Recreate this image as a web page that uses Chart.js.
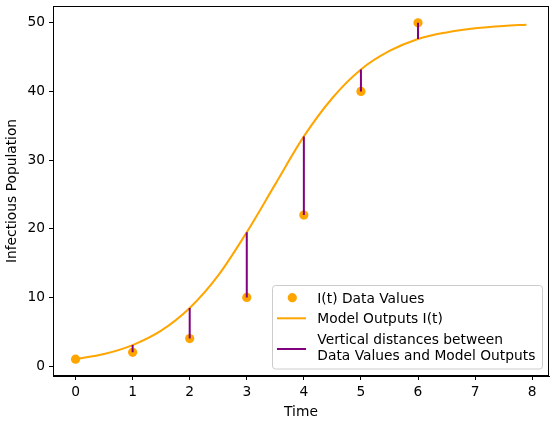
<!DOCTYPE html>
<html>
<head>
<meta charset="utf-8">
<script src="https://cdn.jsdelivr.net/npm/chart.js@4"></script>
<style>
html,body{margin:0;padding:0;background:#fff;}
#wrap{width:554px;height:421px;position:relative;}
</style>
</head>
<body>
<div id="wrap"><canvas id="c" width="554" height="421"></canvas></div>
<script>
// Data
const timePoints = [0, 1, 2, 3, 4, 5, 6];
const dataValues = [1, 2, 4, 10, 22, 40, 50];
const modelTimes = [0, 0.5, 1, 1.5, 2, 2.5, 3, 3.5, 4, 4.5, 5, 5.5, 6, 6.5, 7, 7.5, 7.9];
const modelValues = [1.0, 1.75, 3.05, 5.15, 8.45, 13.2, 19.5, 26.5, 33.45, 39.05, 43.2, 45.9, 47.65, 48.6, 49.2, 49.55, 49.72];
const xTicks = [0, 1, 2, 3, 4, 5, 6, 7, 8];
const yTicks = [0, 10, 20, 30, 40, 50];
const legendLabels = ["I(t) Data Values", "Model Outputs I(t)", ["Vertical distances between", "Data Values and Model Outputs"]];

const FONT = "'DejaVu Sans', sans-serif";
const FS = 13.8;
const ORANGE = '#FFA500';
const PURPLE = '#800080';

// vertical segments from data value to model output at the same time
const segData = [];
timePoints.forEach((t, i) => {
  const mi = modelTimes.indexOf(t);
  segData.push({x: t, y: dataValues[i]});
  segData.push({x: t, y: modelValues[mi]});
  segData.push({x: t, y: null});
});

const framePlugin = {
  id: 'frame',
  afterDraw(chart) {
    const {ctx, chartArea: a} = chart;
    ctx.save();
    ctx.strokeStyle = '#000';
    ctx.lineWidth = 1;
    ctx.strokeRect(Math.round(a.left) + 0.5, Math.round(a.top) + 0.5, Math.round(a.right - a.left) - 1, Math.round(a.bottom - a.top) - 1);
    // legend
    const bx = 272.5, by = 285.5, bw = 270, bh = 83.5, r = 3;
    ctx.globalAlpha = 0.8;
    ctx.fillStyle = '#fff';
    ctx.beginPath();
    ctx.roundRect(bx, by, bw, bh, r);
    ctx.fill();
    ctx.globalAlpha = 1;
    ctx.strokeStyle = '#cccccc';
    ctx.lineWidth = 1;
    ctx.stroke();
    // markers
    ctx.fillStyle = ORANGE;
    ctx.beginPath();
    ctx.arc(292.3, 297.7, 4.6, 0, Math.PI * 2);
    ctx.fill();
    ctx.strokeStyle = ORANGE;
    ctx.lineWidth = 2;
    ctx.beginPath();
    ctx.moveTo(277, 318.3); ctx.lineTo(306, 318.3);
    ctx.stroke();
    ctx.strokeStyle = PURPLE;
    ctx.beginPath();
    ctx.moveTo(277, 349); ctx.lineTo(306, 349);
    ctx.stroke();
    // text
    ctx.fillStyle = '#000';
    ctx.font = FS + 'px ' + FONT;
    ctx.textBaseline = 'middle';
    ctx.textAlign = 'left';
    ctx.fillText(legendLabels[0], 317.3, 299);
    ctx.fillText(legendLabels[1], 317.3, 319);
    ctx.fillText(legendLabels[2][0], 317.3, 340.5);
    ctx.fillText(legendLabels[2][1], 317.3, 356.5);
    ctx.restore();
  }
};

new Chart(document.getElementById('c'), {
  type: 'scatter',
  data: {
    datasets: [
      {
        type: 'line',
        label: 'Model Outputs I(t)',
        data: modelTimes.map((t, i) => ({x: t, y: modelValues[i]})),
        borderColor: ORANGE,
        borderWidth: 2,
        pointRadius: 0,
        cubicInterpolationMode: 'monotone',
        fill: false,
        order: 3
      },
      {
        type: 'scatter',
        label: 'I(t) Data Values',
        data: timePoints.map((t, i) => ({x: t, y: dataValues[i]})),
        backgroundColor: ORANGE,
        borderColor: ORANGE,
        pointRadius: 4.6,
        pointBorderWidth: 0,
        order: 2
      },
      {
        type: 'line',
        label: 'Vertical distances between Data Values and Model Outputs',
        data: segData,
        borderColor: PURPLE,
        borderWidth: 2,
        pointRadius: 0,
        spanGaps: false,
        fill: false,
        order: 1
      }
    ]
  },
  options: {
    responsive: false,
    animation: false,
    devicePixelRatio: 1,
    layout: {padding: {left: 0, right: 5, top: 6, bottom: 0}},
    plugins: {legend: {display: false}, tooltip: {enabled: false}},
    scales: {
      x: {
        type: 'linear',
        min: -0.395, max: 8.295,
        afterBuildTicks: s => { s.ticks = xTicks.map(v => ({value: v})); },
        afterFit: s => { s.height = 45; s.paddingLeft = 0; s.paddingRight = 0; },
        grid: {drawOnChartArea: false, drawTicks: true, tickLength: 4, color: '#000', tickWidth: 1},
        border: {display: true, color: '#000'},
        ticks: {color: '#000', font: {family: FONT, size: FS}, padding: 4.5, maxRotation: 0},
        title: {display: true, text: 'Time', color: '#000', font: {family: FONT, size: FS, lineHeight: 1.2}, padding: {top: 0, bottom: 0.7}}
      },
      y: {
        type: 'linear',
        min: -1.45, max: 52.45,
        afterBuildTicks: s => { s.ticks = yTicks.map(v => ({value: v})); },
        afterFit: s => { s.width = 53; s.paddingTop = 0; s.paddingBottom = 0; },
        grid: {drawOnChartArea: false, drawTicks: true, tickLength: 4, color: '#000', tickWidth: 1},
        border: {display: true, color: '#000'},
        ticks: {color: '#000', font: {family: FONT, size: FS}, padding: 4},
        title: {display: true, text: 'Infectious Population', color: '#000', font: {family: FONT, size: FS, lineHeight: 1.2}, padding: {top: 3.7, bottom: 0}}
      }
    }
  },
  plugins: [framePlugin]
});
</script>
</body>
</html>
